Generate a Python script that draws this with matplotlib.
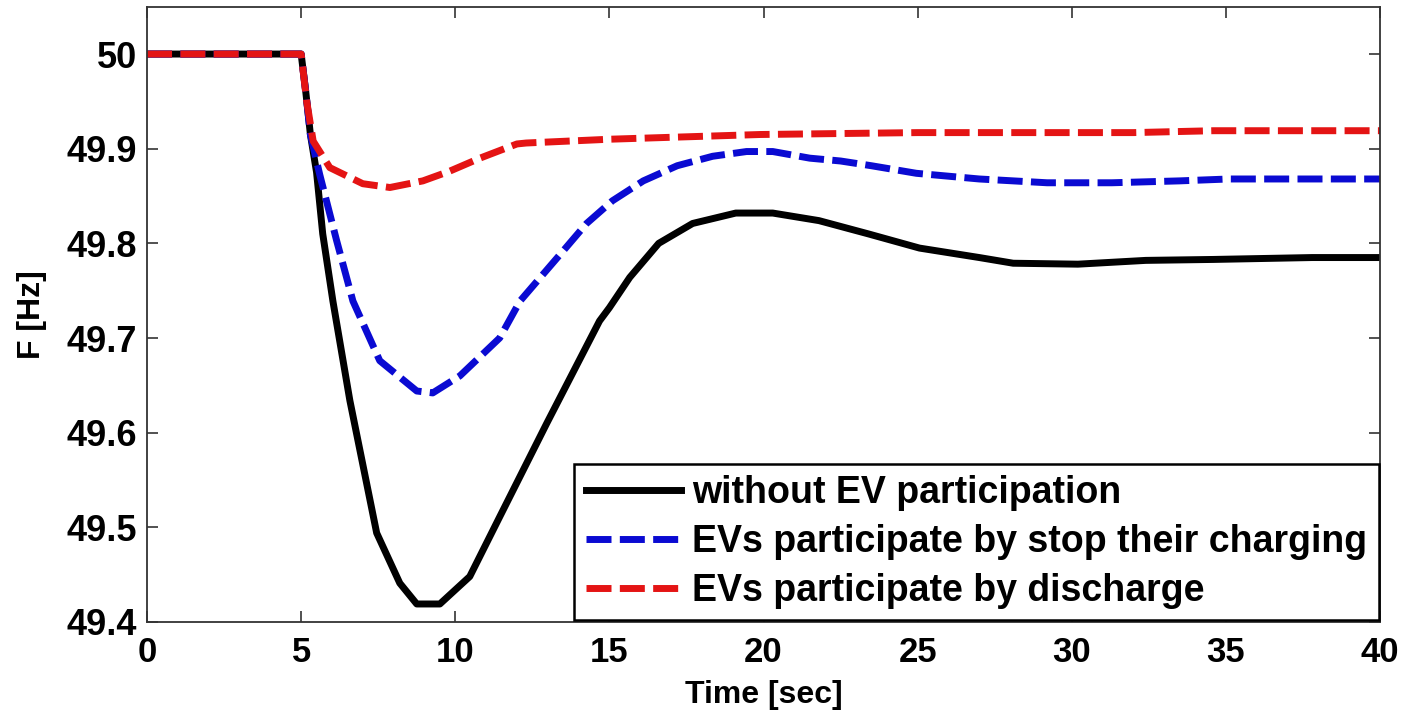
import numpy as np
import matplotlib.pyplot as plt

# time [s] and frequency [Hz]
t_none = [0, 5.0, 5.15, 5.3, 5.5, 5.7, 6.03, 6.58, 7.45, 8.2, 8.75, 9.5, 10.47, 11.44,
          12.97, 14.68, 15.0, 15.66, 16.6, 17.7, 19.1, 20.3, 21.8, 23.4, 25.06, 27.0,
          28.1, 30.2, 32.4, 34.6, 37.8, 40]
f_none = [50, 50, 49.96, 49.915, 49.875, 49.810, 49.739, 49.634, 49.494, 49.441, 49.419,
          49.419, 49.448, 49.511, 49.610, 49.718, 49.732, 49.764, 49.800, 49.821, 49.832,
          49.832, 49.824, 49.810, 49.795, 49.785, 49.779, 49.778, 49.782, 49.783, 49.785,
          49.785]

t_stop = [0, 5.0, 5.15, 5.3, 5.6, 6.15, 6.68, 7.55, 8.75, 9.27, 10.15, 11.44, 12.1, 13.5,
          14.26, 15.1, 16.1, 17.2, 18.35, 19.45, 20.3, 21.5, 22.5, 23.5, 24.96, 27.0,
          29.2, 31.3, 33.5, 35.1, 40]
f_stop = [50, 50, 49.96, 49.915, 49.873, 49.803, 49.739, 49.676, 49.644, 49.642, 49.660,
          49.700, 49.739, 49.792, 49.821, 49.845, 49.866, 49.882, 49.892, 49.897, 49.897,
          49.890, 49.887, 49.882, 49.874, 49.868, 49.864, 49.864, 49.866, 49.868, 49.868]

t_dis = [0, 5.0, 5.18, 5.39, 5.93, 7.0, 7.88, 8.95, 9.8, 10.8, 12.0, 12.3, 15.0, 19.9,
         25.0, 32.0, 34.6, 40]
f_dis = [50, 50, 49.95, 49.908, 49.880, 49.863, 49.859, 49.866, 49.876, 49.890, 49.905,
         49.906, 49.910, 49.915, 49.917, 49.917, 49.919, 49.919]

labels = ['without EV participation',
          'EVs participate by stop their charging',
          'EVs participate by discharge']

x_ticks = [0, 5, 10, 15, 20, 25, 30, 35, 40]
y_ticks = [49.4, 49.5, 49.6, 49.7, 49.8, 49.9, 50.0]
y_tick_labels = ['49.4', '49.5', '49.6', '49.7', '49.8', '49.9', '50']

plt.rcParams['font.family'] = ['Liberation Sans', 'DejaVu Sans']
plt.rcParams['font.weight'] = 'bold'

fig = plt.figure(figsize=(14.03, 7.14), dpi=100)
ax = fig.add_axes([0.1048, 0.1289, 0.8788, 0.8617])

ax.plot(t_none, f_none, color='black', lw=5, label=labels[0])
ax.plot(t_stop, f_stop, color='#0a0ad2', lw=5, dashes=(3.6, 1.2), label=labels[1])
ax.plot(t_dis, f_dis, color='#e41414', lw=5, dashes=(3.6, 1.2), label=labels[2])

ax.set_xlim(0, 40)
ax.set_ylim(49.4, 50.05)
ax.set_xticks(x_ticks)
ax.set_xticklabels([str(v) for v in x_ticks], fontsize=25, fontweight='bold')
ax.set_yticks(y_ticks)
ax.set_yticklabels(y_tick_labels, fontsize=26, fontweight='bold')
ax.tick_params(direction='in', length=8, width=1.2, top=True, right=True, color='#333333')
ax.tick_params(axis='x', pad=10)
ax.tick_params(axis='y', pad=7)
for s in ax.spines.values():
    s.set_linewidth(1.3)
    s.set_color('#333333')

ax.set_xlabel('Time [sec]', fontsize=23, fontweight='bold', labelpad=8)
ax.set_ylabel('F [Hz]', fontsize=23, fontweight='bold', labelpad=14)

leg = ax.legend(loc='lower right', bbox_to_anchor=(0.999, 0.003), fontsize=27,
                handlelength=2.55, handletextpad=0.3, borderpad=0.3, labelspacing=0.34,
                fancybox=False, framealpha=1, borderaxespad=0)
leg.get_frame().set_edgecolor('black')
leg.get_frame().set_linewidth(1.8)

fig.savefig('out.png', dpi=100)
